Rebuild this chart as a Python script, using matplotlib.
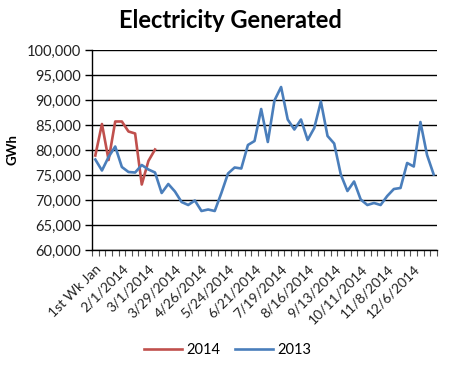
import numpy as np
import matplotlib
matplotlib.use('Agg')
import matplotlib.pyplot as plt
from matplotlib.ticker import FuncFormatter, FixedLocator

plt.rcParams['font.family'] = ['Lato', 'DejaVu Sans']

# 週ごとの発電量 (GWh)
gen_2013 = [78100, 75900, 78600, 80700, 76600, 75600, 75500, 77000, 76100, 75500,
            71400, 73200, 71700, 69600, 69000, 69900, 67800, 68100, 67800, 71400,
            75300, 76500, 76300, 81000, 81800, 88200, 81600, 89900, 92600, 86100,
            84100, 86100, 82000, 84400, 89700, 82800, 81300, 75100, 71800, 73700,
            70100, 69000, 69400, 69000, 70800, 72200, 72400, 77400, 76700, 85600,
            79000, 75100]
gen_2014 = [78900, 85200, 78000, 85700, 85700, 83700, 83300, 73100, 77800, 80100]

tick_labels = ['1st Wk Jan', '2/1/2014', '3/1/2014', '3/29/2014', '4/26/2014',
               '5/24/2014', '6/21/2014', '7/19/2014', '8/16/2014', '9/13/2014',
               '10/11/2014', '11/8/2014', '12/6/2014']

red = '#C0504D'
blue = '#4A7EBB'

fig = plt.figure(figsize=(4.7, 3.67), dpi=100)
ax = fig.add_axes([92 / 470, 1 - 250 / 367, 345 / 470, 200 / 367])

ax.plot(np.arange(len(gen_2014)), gen_2014, color=red, lw=1.9, label='2014')
ax.plot(np.arange(len(gen_2013)), gen_2013, color=blue, lw=1.9, label='2013')

ax.set_xlim(-0.5, len(gen_2013) - 0.5)
ax.set_ylim(60000, 100000)
ax.set_yticks(np.arange(60000, 100001, 5000))
ax.yaxis.set_major_formatter(FuncFormatter(lambda v, p: f'{int(v):,}'))
ax.grid(axis='y', color='black', lw=1.0)
ax.set_axisbelow(True)

# 目盛り: ラベルは4週ごと、刻みは毎週の境界
ax.xaxis.set_major_locator(FixedLocator(np.arange(0, len(gen_2013), 4)))
ax.set_xticklabels(tick_labels, rotation=45, ha='right', rotation_mode='anchor',
                   fontsize=10, color='#222222')
ax.xaxis.set_minor_locator(FixedLocator(np.arange(-0.5, len(gen_2013), 1)))
ax.tick_params(axis='x', which='major', length=0, pad=9)
ax.tick_params(axis='x', which='minor', length=4, width=0.8, color='#555555')
ax.tick_params(axis='y', length=5, width=1, labelsize=10.5, labelcolor='#222222', pad=3)

for s in ['top', 'right']:
    ax.spines[s].set_visible(False)
ax.spines['left'].set_linewidth(1.0)
ax.spines['bottom'].set_linewidth(1.0)

ax.set_ylabel('GWh', fontweight='bold', fontsize=9.5, labelpad=6)
fig.text(0.49, 0.943, 'Electricity Generated', ha='center', va='center',
         fontsize=17, fontweight='bold')

fig.legend(loc='center', bbox_to_anchor=(0.485, 0.045), ncol=2, frameon=False,
           fontsize=10.5, handlelength=2.6, columnspacing=1.0, handletextpad=0.3)

fig.savefig('out.png', dpi=100)
